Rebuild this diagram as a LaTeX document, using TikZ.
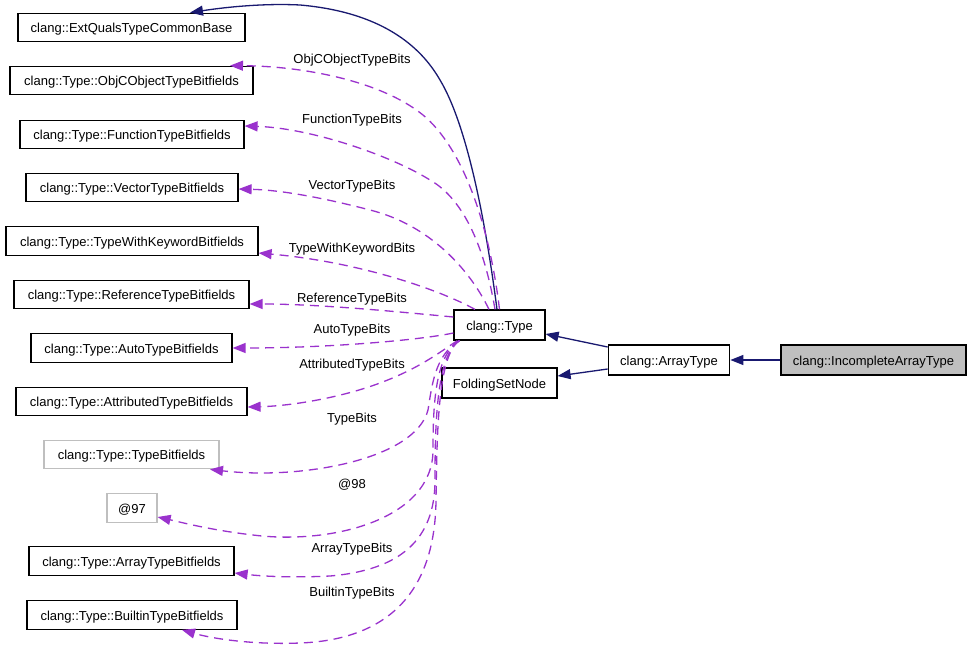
\documentclass[tikz,border=0pt]{standalone}
\usepackage{fontspec}
\setmainfont{Liberation Sans}
\usetikzlibrary{arrows.meta}
\definecolor{navy}{HTML}{191970}
\definecolor{orch}{HTML}{9A32CD}
\definecolor{lgray}{HTML}{BFBFBF}
\begin{document}
\begin{tikzpicture}[x=1pt,y=-1pt,
  box/.style={draw=black,line width=1.2pt,fill=white,inner sep=0pt,minimum height=28.5pt,text height=10pt,text depth=0pt,font=\fontsize{13}{15}\selectfont},
  gbox/.style={box,draw=lgray},
  hbox/.style={box,fill=lgray},
  lbl/.style={inner sep=0pt,text height=10pt,text depth=0pt,font=\fontsize{13}{15}\selectfont},
  inh/.style={draw=navy,line width=1.3pt,-{Triangle[length=13pt,width=10pt]}},
  use/.style={draw=orch,line width=1.3pt,dash pattern=on 9pt off 6pt,-{Triangle[length=13pt,width=10pt]}}]
\useasboundingbox[fill=white] (0,0) rectangle (973,650);
% left column
\node[box,minimum width=227pt] (ext) at (131.5,27.5) {clang::ExtQualsTypeCommonBase};
\node[box,minimum width=243pt] (objc) at (131.5,80.5) {clang::Type::ObjCObjectTypeBitfields};
\node[box,minimum width=224pt] (func) at (132,134.5) {clang::Type::FunctionTypeBitfields};
\node[box,minimum width=212pt] (vec) at (132,187.5) {clang::Type::VectorTypeBitfields};
\node[box,minimum width=252pt] (twk) at (132,241) {clang::Type::TypeWithKeywordBitfields};
\node[box,minimum width=235pt] (ref) at (131.5,294.5) {clang::Type::ReferenceTypeBitfields};
\node[box,minimum width=201pt] (auto) at (131.5,348) {clang::Type::AutoTypeBitfields};
\node[box,minimum width=231pt] (attr) at (131.5,401.5) {clang::Type::AttributedTypeBitfields};
\node[gbox,minimum width=175pt] (tb) at (131.5,454.5) {clang::Type::TypeBitfields};
\node[gbox,minimum width=50pt] (a97) at (132,508) {@97};
\node[box,minimum width=205pt] (arrb) at (131.5,561) {clang::Type::ArrayTypeBitfields};
\node[box,minimum width=210pt] (bib) at (132,615) {clang::Type::BuiltinTypeBitfields};
% right part
\node[box,minimum width=91pt,minimum height=30pt] (type) at (499.5,325) {clang::Type};
\node[box,minimum width=115pt,minimum height=30pt] (fsn) at (499.5,383) {FoldingSetNode};
\node[box,minimum width=121.5pt,minimum height=30pt] (arr) at (669,360) {clang::ArrayType};
\node[hbox,minimum width=185pt,minimum height=30pt] (inc) at (873.5,360) {clang::IncompleteArrayType};
% labels
\node[lbl] (l1) at (352,59) {ObjCObjectTypeBits};
\node[lbl] (l2) at (352,119) {FunctionTypeBits};
\node[lbl] (l3) at (352,184) {VectorTypeBits};
\node[lbl] (l4) at (352,247) {TypeWithKeywordBits};
\node[lbl] (l5) at (352,297) {ReferenceTypeBits};
\node[lbl] (l6) at (352,328) {AutoTypeBits};
\node[lbl] (l7) at (352,363) {AttributedTypeBits};
\node[lbl] (l8) at (352,417) {TypeBits};
\node[lbl] (l9) at (352,483) {@98};
\node[lbl] (l10) at (352,547) {ArrayTypeBits};
\node[lbl] (l11) at (352,591) {BuiltinTypeBits};
% inheritance
\draw[inh] (inc.west) -- (arr.east);
\draw[inh] ([yshift=13pt]arr.west) -- ([yshift=-9pt]type.east);
\draw[inh] ([yshift=-9pt]arr.west) -- ([yshift=7pt]fsn.east);
\draw[inh] ([xshift=-2.5pt]type.north) .. controls (488,240) and (470,130) .. (440,80)
  .. controls (420,45) and (380,12) .. (300,5)
  .. controls (260,3) and (220,8) .. ([xshift=58.5pt]ext.north);
% usage
\draw[use] (type.north) .. controls (490,230) and (465,150) .. (423,115)
  .. controls (380,80) and (300,66) .. ([xshift=98.5pt]objc.north);
\draw[use] ([xshift=-4.5pt]type.north) .. controls (485,250) and (465,200) .. (430,180)
  .. controls (390,155) and (310,128) .. ([yshift=8.5pt]func.east);
\draw[use] ([xshift=-10.5pt]type.north) .. controls (470,270) and (430,225) .. (370,210)
  .. controls (320,197) and (280,190) .. ([yshift=-1.5pt]vec.east);
\draw[use] ([xshift=-24.5pt]type.north) .. controls (440,290) and (360,262) .. ([yshift=-12pt]twk.east);
\draw[use] ([yshift=8pt]type.west) .. controls (400,312) and (320,304) .. ([yshift=-9.5pt]ref.east);
\draw[use] ([yshift=-8pt]type.west) .. controls (420,340) and (330,348) .. (auto.east);
\draw[use] ([xshift=4pt]type.south west) .. controls (440,352) and (420,368) .. (380,383)
  .. controls (340,398) and (290,406) .. ([yshift=-5.5pt]attr.east);
\draw[use] ([xshift=6pt]type.south west) .. controls (435,355) and (432,385) .. (428,410)
  .. controls (415,460) and (300,480) .. ([xshift=78.5pt]tb.south);
\draw[use] ([xshift=6pt]type.south west) .. controls (436,355) and (433,400) .. (433,450)
  .. controls (433,520) and (330,545) .. (253,535)
  .. controls (210,530) and (180,522) .. ([yshift=-9pt]a97.east);
\draw[use] ([xshift=6pt]type.south west) .. controls (437,355) and (435,420) .. (435,480)
  .. controls (435,540) and (400,570) .. (330,576)
  .. controls (290,578) and (260,576) .. ([yshift=-12pt]arrb.east);
\draw[use] ([xshift=6pt]type.south west) .. controls (438,355) and (437,430) .. (436,500)
  .. controls (435,600) and (380,640) .. (300,643)
  .. controls (250,645) and (210,638) .. ([xshift=50pt]bib.south);
\end{tikzpicture}
\end{document}
